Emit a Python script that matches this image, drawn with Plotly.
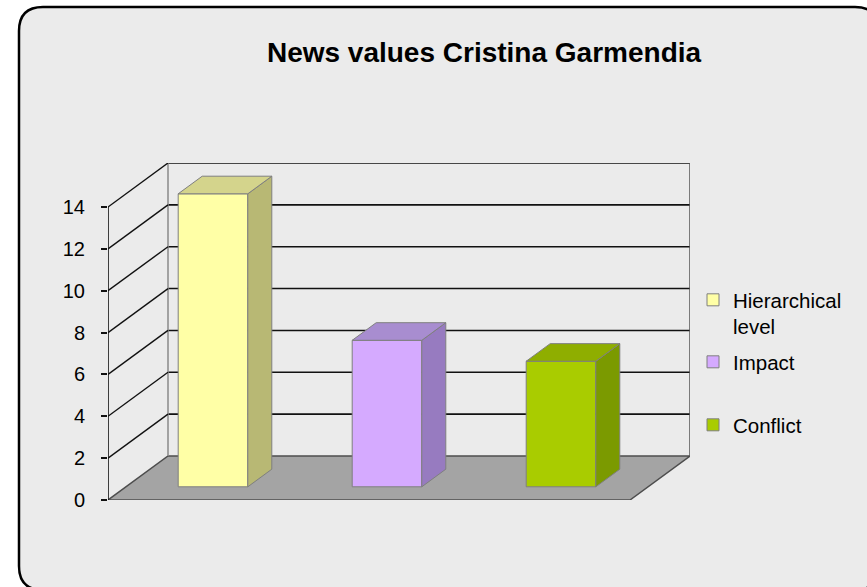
import plotly.graph_objects as go

# ---- data ----
categories = ["Hierarchical level", "Impact", "Conflict"]
legend_labels = ["Hierarchical<br>level", "Impact", "Conflict"]
values = [14, 7, 6]
front_colors = ["#FFFFA6", "#D5AAFF", "#A9CC00"]
side_colors = ["#B8B874", "#977BC0", "#7B9A00"]
top_colors = ["#D4D48C", "#A88DD0", "#8FAE00"]
y_ticks = [0, 2, 4, 6, 8, 10, 12, 14]
y_max = 14

# ---- layout geometry ----
W, H = 867, 587
ML, MR, MT, MB = 108, 177, 163, 87
PW, PH = W - ML - MR, H - MT - MB
n = len(categories)
DEPTH_PX_X, DEPTH_PX_Y = 60, 44
UX = (PW - DEPTH_PX_X) / n
DX = DEPTH_PX_X / UX
DY = DEPTH_PX_Y * y_max / (PH - DEPTH_PX_Y)
D0, D1 = 0.3, 0.7
BW = 0.4


def proj(x, v, d):
    return x + d * DX, v + d * DY


def poly(pts):
    xs, ys = zip(*pts)
    return list(xs) + [xs[0]], list(ys) + [ys[0]]


def path(pts):
    return "M " + " L ".join(f"{x},{y}" for x, y in pts) + " Z"


fig = go.Figure()
shapes = []


def px2paper(px, py):
    return (px - ML) / PW, (H - MB - py) / PH


def P(px, py):
    x, y = px2paper(px, py)
    return f"{x:.5f},{y:.5f}"


# outer rounded frame
fx0, fy0, fx1, fy1, r = 19, 7, 879, 590, 24
frame_path = (
    f"M {P(fx0 + r, fy0)} L {P(fx1 - r, fy0)} Q {P(fx1, fy0)} {P(fx1, fy0 + r)} "
    f"L {P(fx1, fy1 - r)} Q {P(fx1, fy1)} {P(fx1 - r, fy1)} "
    f"L {P(fx0 + r, fy1)} Q {P(fx0, fy1)} {P(fx0, fy1 - r)} "
    f"L {P(fx0, fy0 + r)} Q {P(fx0, fy0)} {P(fx0 + r, fy0)} Z"
)
shapes.append(dict(type="path", xref="paper", yref="paper", path=frame_path,
                   fillcolor="#EBEBEB", line=dict(color="black", width=2.5), layer="below"))

# floor
floor = [proj(0, 0, 0), proj(n, 0, 0), proj(n, 0, 1), proj(0, 0, 1)]
shapes.append(dict(type="path", xref="x", yref="y", path=path(floor),
                   fillcolor="#A4A4A4", line=dict(color="#4D4D4D", width=1.5), layer="below"))

# back wall gridlines
for v in y_ticks[1:-1]:
    a, b = proj(0, v, 1), proj(n, v, 1)
    shapes.append(dict(type="line", xref="x", yref="y", x0=a[0], y0=a[1], x1=b[0], y1=b[1],
                       line=dict(color="#111111", width=1.6), layer="below"))
# back wall top edge
a, b = proj(0, y_max, 1), proj(n, y_max, 1)
shapes.append(dict(type="line", xref="x", yref="y", x0=a[0], y0=a[1], x1=b[0], y1=b[1],
                   line=dict(color="#111111", width=1.6), layer="below"))
# back wall vertical edges
for xx, col in [(0, "#8A8A8A"), (n, "#555555")]:
    a, b = proj(xx, 0, 1), proj(xx, y_max, 1)
    shapes.append(dict(type="line", xref="x", yref="y", x0=a[0], y0=a[1], x1=b[0], y1=b[1],
                       line=dict(color=col, width=1.5), layer="below"))
# side wall diagonals
for v in y_ticks[1:]:
    a, b = proj(0, v, 0), proj(0, v, 1)
    shapes.append(dict(type="line", xref="x", yref="y", x0=a[0], y0=a[1], x1=b[0], y1=b[1],
                       line=dict(color="#111111", width=1.4), layer="below"))
# front value axis line
shapes.append(dict(type="line", xref="x", yref="y", x0=0, y0=0, x1=0, y1=y_max,
                   line=dict(color="#111111", width=1.6), layer="below"))

# bars
legend_pos = [(300, "legend"), (362, "legend2"), (425, "legend3")]
for i, (cat, lab, v) in enumerate(zip(categories, legend_labels, values)):
    xl, xr = i + 0.5 - BW / 2, i + 0.5 + BW / 2
    sx, sy = poly([proj(xr, 0, D0), proj(xr, 0, D1), proj(xr, v, D1), proj(xr, v, D0)])
    fig.add_trace(go.Scatter(x=sx, y=sy, mode="lines", fill="toself", fillcolor=side_colors[i],
                             line=dict(color="#7F7F7F", width=1), showlegend=False, hoverinfo="skip"))
    tx, ty = poly([proj(xl, v, D0), proj(xr, v, D0), proj(xr, v, D1), proj(xl, v, D1)])
    fig.add_trace(go.Scatter(x=tx, y=ty, mode="lines", fill="toself", fillcolor=top_colors[i],
                             line=dict(color="#7F7F7F", width=1), showlegend=False, hoverinfo="skip"))
    cx, base = proj(i + 0.5, 0, D0)
    fig.add_trace(go.Bar(x=[cx], y=[v], base=[base], width=[BW], name=lab,
                         marker=dict(color=front_colors[i], line=dict(color="#7F7F7F", width=1)),
                         legend=legend_pos[i][1]))

legend_common = dict(xref="container", yref="container", xanchor="left", yanchor="top",
                     bgcolor="rgba(0,0,0,0)",
                     font=dict(family="Liberation Sans, Arial", size=20.5, color="black"),
                     valign="top")
leg = {}
for py, name in legend_pos:
    leg[name] = dict(legend_common, x=693 / W, y=1 - (py - 20) / H)

fig.update_layout(
    width=W, height=H, autosize=False,
    margin=dict(l=ML, r=MR, t=MT, b=MB, pad=0, autoexpand=False),
    paper_bgcolor="white", plot_bgcolor="rgba(0,0,0,0)",
    shapes=shapes,
    barmode="overlay",
    title=dict(text="News values Cristina Garmendia", x=484 / W, xanchor="center",
               y=1 - 52 / H, yanchor="middle",
               font=dict(family="Liberation Sans, Arial", size=28, color="black", weight="bold")),
    xaxis=dict(range=[0, n + DX], visible=False, fixedrange=True),
    yaxis=dict(range=[0, y_max + DY], tickvals=y_ticks, ticks="outside", ticklen=6, tickwidth=1.6,
               tickcolor="#111111", showgrid=False, zeroline=False, showline=False,
               ticklabelstandoff=12, fixedrange=True,
               tickfont=dict(family="Liberation Sans, Arial", size=20, color="black")),
    **leg,
)

fig.write_html("out.html", config={"displayModeBar": False},
               post_script="document.body.style.margin='0';document.body.style.overflow='hidden';")
